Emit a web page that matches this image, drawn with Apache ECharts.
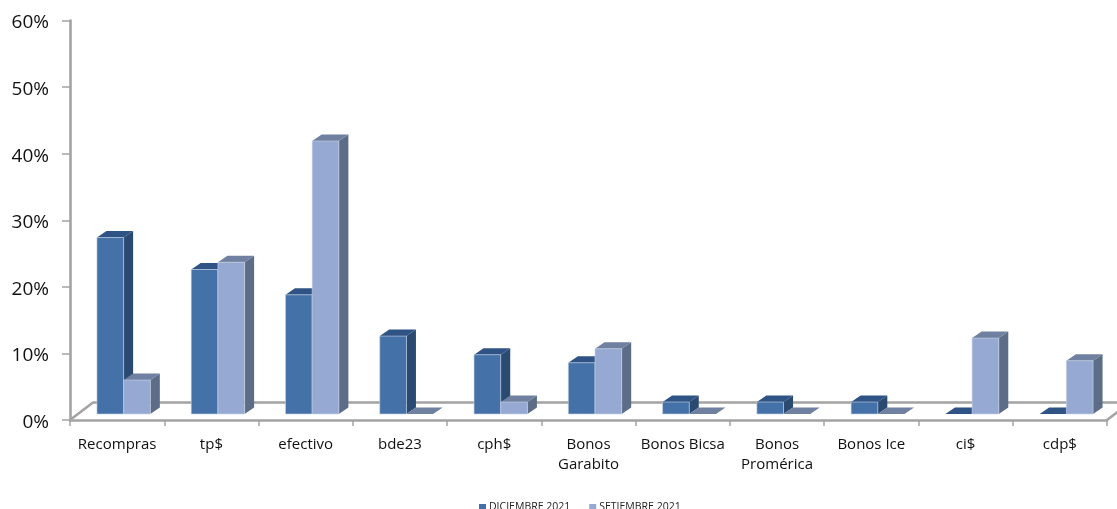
<!DOCTYPE html>
<html><head><meta charset="utf-8">
<style>html,body{margin:0;padding:0;background:#fff;overflow:hidden}#c{width:1117px;height:509px}</style>
<script src="https://cdn.jsdelivr.net/npm/echarts@6/dist/echarts.min.js"></script>
</head><body><div id="c"></div>
<script>
const categories = ['Recompras','tp$','efectivo','bde23','cph$','Bonos\nGarabito','Bonos Bicsa','Bonos\nPromérica','Bonos Ice','ci$','cdp$'];
const diciembre = [0.265,0.217,0.179,0.117,0.089,0.077,0.018,0.018,0.018,0,0];
const setiembre = [0.051,0.228,0.41,0,0.018,0.098,0,0,0,0.114,0.08];
const yTicks = {min:0,max:0.6,interval:0.1};
const FLOOR_UP = 6, DX = 9.5, DY = 6.5, BAR = 26.7, SHIFT = 6.5;

function bar(colors, side){
  return function(params, api){
    const c = api.coord([api.value(0), api.value(1)]);
    const b = api.coord([api.value(0), 0]);
    const x = c[0] + SHIFT + (side < 0 ? -BAR : 0);
    const yT = c[1] - FLOOR_UP, yB = b[1] - FLOOR_UP;
    const ch = [
      {type:'polygon',shape:{points:[[x+BAR,yT],[x+BAR+DX,yT-DY],[x+BAR+DX,yB-DY],[x+BAR,yB]]},style:{fill:colors.side}},
      {type:'polygon',shape:{points:[[x,yT],[x+DX,yT-DY],[x+BAR+DX,yT-DY],[x+BAR,yT]]},style:{fill:colors.top}}
    ];
    if (yB - yT > 0.5) ch.push({type:'rect',shape:{x:x,y:yT,width:BAR,height:yB-yT},style:{fill:colors.front,stroke:'#c9d4e6',lineWidth:0.6}});
    return {type:'group',children:ch};
  };
}
function floor(params, api){
  const s = params.coordSys, L = s.x, R = s.x + s.width, B = s.y + s.height;
  const st = {stroke:'#a3a3a3',lineWidth:2.6,fill:'none'};
  return {type:'polyline',silent:true,z2:0,shape:{points:[[L,B],[L+23,B-17.5],[R+23,B-17.5],[R,B]]},style:st};
}
const dark = {front:'#4472a8',top:'#2f5384',side:'#2b4a72'};
const light = {front:'#95a9d2',top:'#6f80a0',side:'#5d6d88'};
const chart = echarts.init(document.getElementById('c'),null,{renderer:'canvas'});
chart.setOption({
  animation:false,
  backgroundColor:'#fff',
  textStyle:{fontFamily:'"Open Sans"'},
  grid:{left:70,right:10,top:20.5,bottom:89},
  legend:{left:479,top:502,itemWidth:7,itemHeight:7,itemGap:19,icon:'rect',padding:0,
    textStyle:{fontSize:10.5,color:'#222',padding:[0,0,0,-2]},
    data:['DICIEMBRE 2021','SETIEMBRE 2021']},
  xAxis:{type:'category',data:categories,
    axisLine:{lineStyle:{color:'#a3a3a3',width:2.6}},
    axisTick:{show:true,alignWithLabel:false,length:6,lineStyle:{color:'#a3a3a3',width:1.5}},
    axisLabel:{color:'#111',fontSize:15,margin:14.5,lineHeight:20,interval:0}},
  yAxis:{type:'value',min:yTicks.min,max:yTicks.max,interval:yTicks.interval,
    axisLine:{show:true,lineStyle:{color:'#a3a3a3',width:2.6}},
    axisTick:{show:true,length:8,lineStyle:{color:'#a3a3a3',width:1.5}},
    splitLine:{show:false},
    axisLabel:{color:'#111',fontSize:19,margin:21,verticalAlign:'top',lineHeight:5,formatter:v=>Math.round(v*100)+'%'}},
  series:[
    {type:'custom',name:'floor',silent:true,z:1,renderItem:floor,data:[[0,0]],clip:false,legendHoverLink:false,encode:{x:0,y:1}},
    {type:'custom',name:'DICIEMBRE 2021',z:2,itemStyle:{color:dark.front},renderItem:bar(dark,-1),clip:false,
      data:diciembre.map((v,i)=>[i,v]),encode:{x:0,y:1}},
    {type:'custom',name:'SETIEMBRE 2021',z:3,itemStyle:{color:light.front},renderItem:bar(light,1),clip:false,
      data:setiembre.map((v,i)=>[i,v]),encode:{x:0,y:1}}
  ]
});
</script></body></html>
